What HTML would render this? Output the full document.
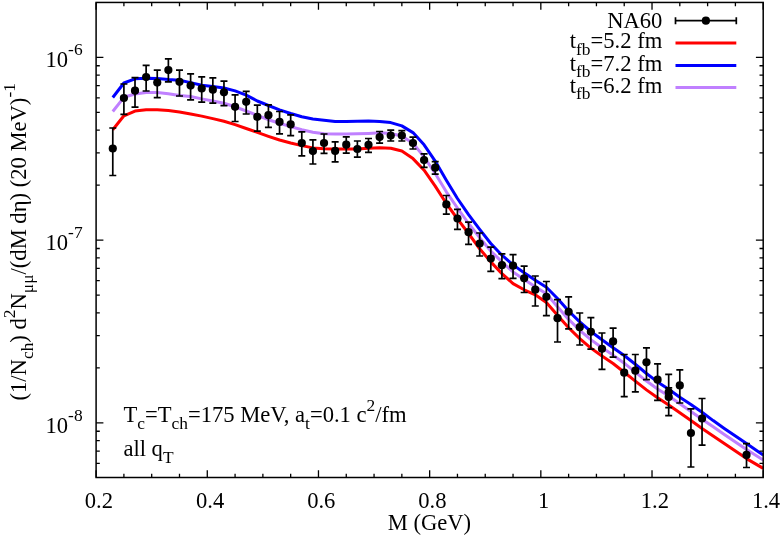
<!DOCTYPE html>
<html><head><meta charset="utf-8"><style>
html,body{margin:0;padding:0;background:#fff;}
body{width:781px;height:538px;overflow:hidden;}
svg{display:block;will-change:transform;}
text{font-family:"Liberation Serif",serif;font-size:22.6px;fill:#000;white-space:pre;}
</style></head><body>
<svg width="781" height="538" viewBox="0 0 781 538">
<rect width="781" height="538" fill="#fff"/>
<path d="M112.78 129.70 L123.90 115.80 L135.01 111.10 L146.13 109.70 L157.25 109.70 L168.37 110.60 L179.49 111.90 L190.61 113.90 L201.72 116.10 L212.84 118.60 L223.96 121.30 L235.08 124.60 L246.20 128.50 L257.32 132.40 L268.43 136.30 L279.55 140.00 L290.67 143.00 L301.79 145.60 L312.91 147.90 L324.03 148.80 L335.14 149.10 L346.26 149.10 L357.38 148.90 L368.50 148.20 L379.62 147.70 L390.74 148.20 L401.85 151.00 L412.97 158.60 L424.09 170.20 L435.21 186.10 L446.33 203.50 L457.45 218.90 L468.56 233.50 L479.68 248.80 L490.80 261.90 L501.92 273.60 L513.04 283.60 L524.16 289.80 L535.27 294.80 L546.39 302.60 L557.51 315.20 L568.63 327.70 L579.75 338.60 L590.87 348.10 L601.98 356.00 L613.10 363.50 L624.22 372.20 L635.34 381.10 L646.46 389.90 L657.58 397.80 L668.69 405.00 L679.81 412.80 L690.93 420.60 L702.05 428.50 L713.17 436.00 L724.29 443.50 L735.40 451.00 L746.52 458.60 L757.64 465.10 L763.20 468.40" fill="none" stroke="#ff0000" stroke-width="3" stroke-linejoin="round" stroke-linecap="butt"/>
<path d="M112.78 97.50 L123.90 83.00 L135.01 78.80 L146.13 78.30 L157.25 78.40 L168.37 79.50 L179.49 80.20 L190.61 82.60 L201.72 85.20 L212.84 86.50 L223.96 88.00 L235.08 90.90 L246.20 95.10 L257.32 101.00 L268.43 105.50 L279.55 109.80 L290.67 113.50 L301.79 116.80 L312.91 119.00 L324.03 120.20 L335.14 121.40 L346.26 121.40 L357.38 121.20 L368.50 120.90 L379.62 121.40 L390.74 122.60 L401.85 125.90 L412.97 132.60 L424.09 144.80 L435.21 161.10 L446.33 180.20 L457.45 198.50 L468.56 214.70 L479.68 229.40 L490.80 243.50 L501.92 255.20 L513.04 264.90 L524.16 272.80 L535.27 280.20 L546.39 287.30 L557.51 298.50 L568.63 311.00 L579.75 321.90 L590.87 331.50 L601.98 339.80 L613.10 347.70 L624.22 355.50 L635.34 364.30 L646.46 373.50 L657.58 381.90 L668.69 389.30 L679.81 397.30 L690.93 404.50 L702.05 412.30 L713.17 420.60 L724.29 428.40 L735.40 436.00 L746.52 443.60 L757.64 451.20 L763.20 455.00" fill="none" stroke="#0000ff" stroke-width="3" stroke-linejoin="round" stroke-linecap="butt"/>
<path d="M112.78 111.50 L123.90 97.30 L135.01 94.00 L146.13 92.60 L157.25 92.60 L168.37 93.80 L179.49 95.60 L190.61 96.50 L201.72 98.90 L212.84 101.00 L223.96 103.20 L235.08 106.80 L246.20 111.00 L257.32 115.50 L268.43 119.70 L279.55 123.20 L290.67 126.60 L301.79 129.80 L312.91 132.30 L324.03 133.70 L335.14 134.00 L346.26 134.00 L357.38 133.80 L368.50 133.40 L379.62 132.80 L390.74 133.50 L401.85 136.00 L412.97 143.20 L424.09 156.90 L435.21 173.50 L446.33 191.80 L457.45 208.00 L468.56 223.50 L479.68 237.70 L490.80 251.00 L501.92 261.90 L513.04 271.90 L524.16 279.50 L535.27 286.80 L546.39 293.80 L557.51 306.80 L568.63 319.40 L579.75 330.30 L590.87 339.60 L601.98 347.70 L613.10 355.10 L624.22 363.20 L635.34 372.20 L646.46 381.10 L657.58 388.90 L668.69 396.00 L679.81 403.70 L690.93 411.50 L702.05 419.30 L713.17 426.80 L724.29 434.40 L735.40 441.90 L746.52 449.40 L757.64 456.40 L763.20 460.00" fill="none" stroke="#c080ff" stroke-width="3" stroke-linejoin="round" stroke-linecap="butt"/>
<path d="M96.10 477.5 v-7.3 M96.10 2.45 v7.3 M123.90 477.5 v-3.7 M123.90 2.45 v3.7 M151.69 477.5 v-3.7 M151.69 2.45 v3.7 M179.49 477.5 v-3.7 M179.49 2.45 v3.7 M207.28 477.5 v-7.3 M207.28 2.45 v7.3 M235.08 477.5 v-3.7 M235.08 2.45 v3.7 M262.88 477.5 v-3.7 M262.88 2.45 v3.7 M290.67 477.5 v-3.7 M290.67 2.45 v3.7 M318.47 477.5 v-7.3 M318.47 2.45 v7.3 M346.26 477.5 v-3.7 M346.26 2.45 v3.7 M374.06 477.5 v-3.7 M374.06 2.45 v3.7 M401.85 477.5 v-3.7 M401.85 2.45 v3.7 M429.65 477.5 v-7.3 M429.65 2.45 v7.3 M457.45 477.5 v-3.7 M457.45 2.45 v3.7 M485.24 477.5 v-3.7 M485.24 2.45 v3.7 M513.04 477.5 v-3.7 M513.04 2.45 v3.7 M540.83 477.5 v-7.3 M540.83 2.45 v7.3 M568.63 477.5 v-3.7 M568.63 2.45 v3.7 M596.43 477.5 v-3.7 M596.43 2.45 v3.7 M624.22 477.5 v-3.7 M624.22 2.45 v3.7 M652.02 477.5 v-7.3 M652.02 2.45 v7.3 M679.81 477.5 v-3.7 M679.81 2.45 v3.7 M707.61 477.5 v-3.7 M707.61 2.45 v3.7 M735.40 477.5 v-3.7 M735.40 2.45 v3.7 M763.20 477.5 v-7.3 M763.20 2.45 v7.3 M96.1 463.44 h3.7 M763.2 463.44 h-3.7 M96.1 451.21 h3.7 M763.2 451.21 h-3.7 M96.1 440.61 h3.7 M763.2 440.61 h-3.7 M96.1 431.26 h3.7 M763.2 431.26 h-3.7 M96.1 422.90 h7.3 M763.2 422.90 h-7.3 M96.1 367.89 h3.7 M763.2 367.89 h-3.7 M96.1 335.71 h3.7 M763.2 335.71 h-3.7 M96.1 312.87 h3.7 M763.2 312.87 h-3.7 M96.1 295.16 h3.7 M763.2 295.16 h-3.7 M96.1 280.69 h3.7 M763.2 280.69 h-3.7 M96.1 268.46 h3.7 M763.2 268.46 h-3.7 M96.1 257.86 h3.7 M763.2 257.86 h-3.7 M96.1 248.51 h3.7 M763.2 248.51 h-3.7 M96.1 240.15 h7.3 M763.2 240.15 h-7.3 M96.1 185.14 h3.7 M763.2 185.14 h-3.7 M96.1 152.96 h3.7 M763.2 152.96 h-3.7 M96.1 130.12 h3.7 M763.2 130.12 h-3.7 M96.1 112.41 h3.7 M763.2 112.41 h-3.7 M96.1 97.94 h3.7 M763.2 97.94 h-3.7 M96.1 85.71 h3.7 M763.2 85.71 h-3.7 M96.1 75.11 h3.7 M763.2 75.11 h-3.7 M96.1 65.76 h3.7 M763.2 65.76 h-3.7 M96.1 57.40 h7.3 M763.2 57.40 h-7.3" stroke="#000" stroke-width="1.3" fill="none"/>
<rect x="96.1" y="2.45" width="667.1" height="475.05" fill="none" stroke="#000" stroke-width="1.5"/>
<path d="M112.78 128.00 V175.50 M109.28 128.00 h7.0 M109.28 175.50 h7.0 M123.90 84.00 V114.40 M120.40 84.00 h7.0 M120.40 114.40 h7.0 M135.01 77.60 V107.20 M131.51 77.60 h7.0 M131.51 107.20 h7.0 M146.13 65.40 V91.00 M142.63 65.40 h7.0 M142.63 91.00 h7.0 M157.25 70.10 V97.70 M153.75 70.10 h7.0 M153.75 97.70 h7.0 M168.37 58.90 V81.80 M164.87 58.90 h7.0 M164.87 81.80 h7.0 M179.49 70.10 V96.00 M175.99 70.10 h7.0 M175.99 96.00 h7.0 M190.61 73.80 V99.90 M187.11 73.80 h7.0 M187.11 99.90 h7.0 M201.72 76.80 V102.20 M198.22 76.80 h7.0 M198.22 102.20 h7.0 M212.84 77.90 V103.20 M209.34 77.90 h7.0 M209.34 103.20 h7.0 M223.96 81.20 V105.60 M220.46 81.20 h7.0 M220.46 105.60 h7.0 M235.08 94.80 V121.50 M231.58 94.80 h7.0 M231.58 121.50 h7.0 M246.20 91.40 V114.00 M242.70 91.40 h7.0 M242.70 114.00 h7.0 M257.32 105.10 V131.10 M253.82 105.10 h7.0 M253.82 131.10 h7.0 M268.43 104.80 V127.40 M264.93 104.80 h7.0 M264.93 127.40 h7.0 M279.55 111.50 V133.90 M276.05 111.50 h7.0 M276.05 133.90 h7.0 M290.67 114.80 V135.60 M287.17 114.80 h7.0 M287.17 135.60 h7.0 M301.79 131.90 V155.80 M298.29 131.90 h7.0 M298.29 155.80 h7.0 M312.91 139.90 V164.00 M309.41 139.90 h7.0 M309.41 164.00 h7.0 M324.03 134.00 V153.40 M320.53 134.00 h7.0 M320.53 153.40 h7.0 M335.14 141.80 V161.90 M331.64 141.80 h7.0 M331.64 161.90 h7.0 M346.26 136.80 V153.20 M342.76 136.80 h7.0 M342.76 153.20 h7.0 M357.38 141.00 V157.20 M353.88 141.00 h7.0 M353.88 157.20 h7.0 M368.50 138.50 V152.40 M365.00 138.50 h7.0 M365.00 152.40 h7.0 M379.62 131.50 V143.20 M376.12 131.50 h7.0 M376.12 143.20 h7.0 M390.74 130.10 V141.00 M387.24 130.10 h7.0 M387.24 141.00 h7.0 M401.85 130.60 V141.00 M398.35 130.60 h7.0 M398.35 141.00 h7.0 M412.97 137.10 V149.00 M409.47 137.10 h7.0 M409.47 149.00 h7.0 M424.09 153.90 V167.30 M420.59 153.90 h7.0 M420.59 167.30 h7.0 M435.21 161.60 V174.10 M431.71 161.60 h7.0 M431.71 174.10 h7.0 M446.33 195.50 V214.10 M442.83 195.50 h7.0 M442.83 214.10 h7.0 M457.45 209.40 V229.30 M453.95 209.40 h7.0 M453.95 229.30 h7.0 M468.56 222.20 V244.30 M465.06 222.20 h7.0 M465.06 244.30 h7.0 M479.68 233.00 V256.00 M476.18 233.00 h7.0 M476.18 256.00 h7.0 M490.80 247.20 V271.40 M487.30 247.20 h7.0 M487.30 271.40 h7.0 M501.92 253.90 V278.60 M498.42 253.90 h7.0 M498.42 278.60 h7.0 M513.04 254.70 V278.30 M509.54 254.70 h7.0 M509.54 278.30 h7.0 M524.16 266.10 V292.50 M520.66 266.10 h7.0 M520.66 292.50 h7.0 M535.27 276.00 V306.00 M531.77 276.00 h7.0 M531.77 306.00 h7.0 M546.39 281.50 V315.70 M542.89 281.50 h7.0 M542.89 315.70 h7.0 M557.51 299.60 V342.00 M554.01 299.60 h7.0 M554.01 342.00 h7.0 M568.63 296.80 V328.90 M565.13 296.80 h7.0 M565.13 328.90 h7.0 M579.75 313.00 V345.00 M576.25 313.00 h7.0 M576.25 345.00 h7.0 M590.87 317.70 V349.20 M587.37 317.70 h7.0 M587.37 349.20 h7.0 M601.98 333.00 V369.40 M598.48 333.00 h7.0 M598.48 369.40 h7.0 M613.10 328.10 V357.10 M609.60 328.10 h7.0 M609.60 357.10 h7.0 M624.22 354.50 V396.60 M620.72 354.50 h7.0 M620.72 396.60 h7.0 M635.34 354.50 V391.90 M631.84 354.50 h7.0 M631.84 391.90 h7.0 M646.46 347.90 V379.70 M642.96 347.90 h7.0 M642.96 379.70 h7.0 M657.58 363.80 V400.30 M654.08 363.80 h7.0 M654.08 400.30 h7.0 M668.69 374.40 V415.60 M665.19 374.40 h7.0 M665.19 415.60 h7.0 M668.71 387.80 V407.60 M665.21 387.80 h7.0 M665.21 407.60 h7.0 M679.81 369.90 V403.00 M676.31 369.90 h7.0 M676.31 403.00 h7.0 M690.93 408.80 V467.00 M687.43 408.80 h7.0 M687.43 467.00 h7.0 M702.05 398.50 V445.20 M698.55 398.50 h7.0 M698.55 445.20 h7.0 M746.52 443.60 V467.50 M743.02 443.60 h7.0 M743.02 467.50 h7.0" stroke="#000" stroke-width="1.7" fill="none"/>
<g fill="#000"><circle cx="112.78" cy="148.50" r="4.1"/><circle cx="123.90" cy="98.00" r="4.1"/><circle cx="135.01" cy="90.70" r="4.1"/><circle cx="146.13" cy="77.10" r="4.1"/><circle cx="157.25" cy="82.60" r="4.1"/><circle cx="168.37" cy="70.10" r="4.1"/><circle cx="179.49" cy="81.80" r="4.1"/><circle cx="190.61" cy="85.60" r="4.1"/><circle cx="201.72" cy="88.50" r="4.1"/><circle cx="212.84" cy="89.70" r="4.1"/><circle cx="223.96" cy="92.30" r="4.1"/><circle cx="235.08" cy="106.80" r="4.1"/><circle cx="246.20" cy="101.80" r="4.1"/><circle cx="257.32" cy="116.80" r="4.1"/><circle cx="268.43" cy="115.20" r="4.1"/><circle cx="279.55" cy="121.90" r="4.1"/><circle cx="290.67" cy="124.40" r="4.1"/><circle cx="301.79" cy="143.10" r="4.1"/><circle cx="312.91" cy="151.10" r="4.1"/><circle cx="324.03" cy="143.00" r="4.1"/><circle cx="335.14" cy="150.90" r="4.1"/><circle cx="346.26" cy="144.70" r="4.1"/><circle cx="357.38" cy="149.00" r="4.1"/><circle cx="368.50" cy="144.80" r="4.1"/><circle cx="379.62" cy="137.10" r="4.1"/><circle cx="390.74" cy="135.50" r="4.1"/><circle cx="401.85" cy="135.50" r="4.1"/><circle cx="412.97" cy="143.00" r="4.1"/><circle cx="424.09" cy="160.10" r="4.1"/><circle cx="435.21" cy="167.70" r="4.1"/><circle cx="446.33" cy="204.40" r="4.1"/><circle cx="457.45" cy="218.50" r="4.1"/><circle cx="468.56" cy="232.20" r="4.1"/><circle cx="479.68" cy="243.50" r="4.1"/><circle cx="490.80" cy="258.50" r="4.1"/><circle cx="501.92" cy="265.20" r="4.1"/><circle cx="513.04" cy="265.70" r="4.1"/><circle cx="524.16" cy="278.30" r="4.1"/><circle cx="535.27" cy="289.70" r="4.1"/><circle cx="546.39" cy="296.80" r="4.1"/><circle cx="557.51" cy="318.20" r="4.1"/><circle cx="568.63" cy="311.80" r="4.1"/><circle cx="579.75" cy="327.20" r="4.1"/><circle cx="590.87" cy="331.80" r="4.1"/><circle cx="601.98" cy="348.80" r="4.1"/><circle cx="613.10" cy="341.40" r="4.1"/><circle cx="624.22" cy="372.70" r="4.1"/><circle cx="635.34" cy="370.70" r="4.1"/><circle cx="646.46" cy="362.30" r="4.1"/><circle cx="657.58" cy="379.70" r="4.1"/><circle cx="668.69" cy="392.00" r="4.1"/><circle cx="668.71" cy="397.00" r="4.1"/><circle cx="679.81" cy="385.40" r="4.1"/><circle cx="690.93" cy="433.00" r="4.1"/><circle cx="702.05" cy="418.50" r="4.1"/><circle cx="746.52" cy="454.90" r="4.1"/></g>
<text x="82.6" y="67.10" text-anchor="end" ><tspan dy="0.00" font-size="22.60px">10</tspan><tspan dy="-11.87" font-size="17.40px">-6</tspan></text>
<text x="82.6" y="249.85" text-anchor="end" ><tspan dy="0.00" font-size="22.60px">10</tspan><tspan dy="-11.87" font-size="17.40px">-7</tspan></text>
<text x="82.6" y="432.60" text-anchor="end" ><tspan dy="0.00" font-size="22.60px">10</tspan><tspan dy="-11.87" font-size="17.40px">-8</tspan></text>
<text x="98.90" y="507.6" text-anchor="middle" ><tspan dy="0.00" font-size="22.60px">0.2</tspan></text>
<text x="210.08" y="507.6" text-anchor="middle" ><tspan dy="0.00" font-size="22.60px">0.4</tspan></text>
<text x="321.27" y="507.6" text-anchor="middle" ><tspan dy="0.00" font-size="22.60px">0.6</tspan></text>
<text x="432.45" y="507.6" text-anchor="middle" ><tspan dy="0.00" font-size="22.60px">0.8</tspan></text>
<text x="543.63" y="507.6" text-anchor="middle" ><tspan dy="0.00" font-size="22.60px">1</tspan></text>
<text x="654.82" y="507.6" text-anchor="middle" ><tspan dy="0.00" font-size="22.60px">1.2</tspan></text>
<text x="766.00" y="507.6" text-anchor="middle" ><tspan dy="0.00" font-size="22.60px">1.4</tspan></text>
<text x="429.4" y="529.8" text-anchor="middle" ><tspan dy="0.00" font-size="22.60px">M (GeV)</tspan></text>
<text x="662.4" y="27.9" text-anchor="end" ><tspan dy="0.00" font-size="22.60px">NA60</tspan></text>
<text x="662.3" y="48.1" text-anchor="end" ><tspan dy="0.00" font-size="22.60px">t</tspan><tspan dy="6.55" font-size="17.40px">fb</tspan><tspan dy="-6.55" font-size="22.60px">=5.2 fm</tspan></text>
<text x="662.3" y="70.5" text-anchor="end" ><tspan dy="0.00" font-size="22.60px">t</tspan><tspan dy="6.55" font-size="17.40px">fb</tspan><tspan dy="-6.55" font-size="22.60px">=7.2 fm</tspan></text>
<text x="662.3" y="92.6" text-anchor="end" ><tspan dy="0.00" font-size="22.60px">t</tspan><tspan dy="6.55" font-size="17.40px">fb</tspan><tspan dy="-6.55" font-size="22.60px">=6.2 fm</tspan></text>
<text x="123.4" y="422.2" text-anchor="start" ><tspan dy="0.00" font-size="22.60px">T</tspan><tspan dy="6.55" font-size="17.40px">c</tspan><tspan dy="-6.55" font-size="22.60px">=T</tspan><tspan dy="6.55" font-size="17.40px">ch</tspan><tspan dy="-6.55" font-size="22.60px">=175 MeV, a</tspan><tspan dy="6.55" font-size="17.40px">t</tspan><tspan dy="-6.55" font-size="22.60px">=0.1 c</tspan><tspan dy="-10.85" font-size="17.40px">2</tspan><tspan dy="10.85" font-size="22.60px">/fm</tspan></text>
<text x="123.4" y="456.1" text-anchor="start" ><tspan dy="0.00" font-size="22.60px">all q</tspan><tspan dy="6.55" font-size="17.40px">T</tspan></text>
<g transform="translate(26.0,241.8) rotate(-90)">
<text x="0" y="0" text-anchor="middle" ><tspan dy="0.00" font-size="22.60px">(1/N</tspan><tspan dy="6.55" font-size="17.40px">ch</tspan><tspan dy="-6.55" font-size="22.60px">) d</tspan><tspan dy="-10.85" font-size="17.40px">2</tspan><tspan dy="10.85" font-size="22.60px">N</tspan><tspan dy="6.55" font-size="17.40px">μμ</tspan><tspan dy="-6.55" font-size="22.60px">/(dM dη) (20 MeV)</tspan><tspan dy="-10.85" font-size="17.40px">-1</tspan></text>
</g>
<path d="M675.5 20.7 H736.3 M675.5 17.2 v7 M736.3 17.2 v7" stroke="#000" stroke-width="1.7" fill="none"/>
<circle cx="705.9" cy="20.7" r="4.1" fill="#000"/>
<path d="M675.5 43.0 H736.3" stroke="#ff0000" stroke-width="3" fill="none"/>
<path d="M675.5 65.4 H736.3" stroke="#0000ff" stroke-width="3" fill="none"/>
<path d="M675.5 87.4 H736.3" stroke="#c080ff" stroke-width="3" fill="none"/>
</svg>
</body></html>
